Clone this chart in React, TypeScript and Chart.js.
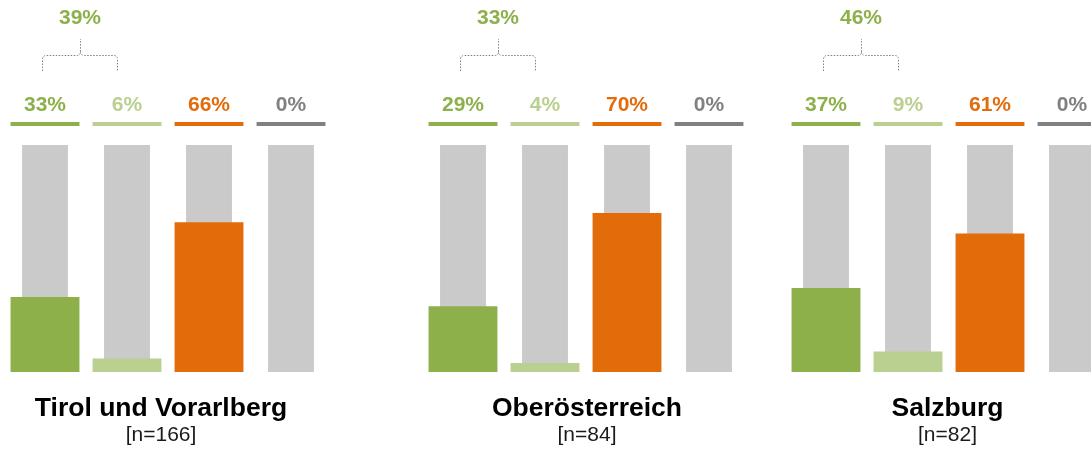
import { useEffect, useRef } from 'react';
import { Chart, registerables } from 'chart.js';

Chart.register(...registerables);

// ---- data ----
const categories = ['Antwort 1', 'Antwort 2', 'Antwort 3', 'Antwort 4'];
const regions = ['Tirol und Vorarlberg', 'Oberösterreich', 'Salzburg'];
const sampleSizes = ['[n=166]', '[n=84]', '[n=82]'];
const tirolValues = [33, 6, 66, 0];
const oberoesterreichValues = [29, 4, 70, 0];
const salzburgValues = [37, 9, 61, 0];
const bracketTotals = [39, 33, 46];
const seriesByRegion = [tirolValues, oberoesterreichValues, salzburgValues];

// ---- styles ----
const barColors = ['#8EB04B', '#BAD090', '#E36C0A', '#808080'];
const trackColor = '#CACACA';
const FONT = 'Arial, "Liberation Sans", Helvetica, sans-serif';
const groupLayouts = [
  { left: 4, labelShift: -7 },
  { left: 422, labelShift: 1 },
  { left: 785, labelShift: -1.5 },
];
const CANVAS_W = 328;
const CANVAS_H = 451;

function GroupChart({ index }: { index: number }) {
  const ref = useRef<HTMLCanvasElement | null>(null);
  useEffect(() => {
    const canvas = ref.current;
    if (!canvas) return;
    const values = seriesByRegion[index];
    const layoutCfg = groupLayouts[index];

    const decor = {
      id: 'decor' + index,
      afterDatasetsDraw(chart: any) {
        const ctx = chart.ctx as CanvasRenderingContext2D;
        const area = chart.chartArea;
        const meta = chart.getDatasetMeta(1);
        const xs: number[] = [];
        ctx.save();
        meta.data.forEach((bar: any, i: number) => {
          const w = bar.width;
          const x = bar.x;
          xs.push(x);
          ctx.fillStyle = barColors[i];
          ctx.fillRect(x - w / 2, area.top - 23, w, 4);
          ctx.font = `bold 21px ${FONT}`;
          ctx.textAlign = 'center';
          ctx.textBaseline = 'middle';
          ctx.fillText(`${values[i]}%`, x, area.top - 40);
        });

        // bracket over the first two bars
        const L = Math.round(xs[0] - 3) + 0.5;
        const R = Math.round(xs[1] - 10) + 0.5;
        const M = Math.round((L + R) / 2) + 0.5;
        const yb = area.top - 74;
        const yh = area.top - 90 + 0.5;
        const yp = area.top - 106;
        const r = 4;
        ctx.strokeStyle = '#7F7F7F';
        ctx.lineWidth = 1;
        ctx.setLineDash([1.5, 1.5]);
        ctx.beginPath();
        ctx.moveTo(L, yb);
        ctx.lineTo(L, yh + r);
        ctx.quadraticCurveTo(L, yh, L + r, yh);
        ctx.lineTo(M - r, yh);
        ctx.quadraticCurveTo(M, yh, M, yh - r);
        ctx.lineTo(M, yp);
        ctx.moveTo(M, yh - r);
        ctx.quadraticCurveTo(M, yh, M + r, yh);
        ctx.lineTo(R - r, yh);
        ctx.quadraticCurveTo(R, yh, R, yh + r);
        ctx.lineTo(R, yb);
        ctx.stroke();
        ctx.setLineDash([]);

        ctx.fillStyle = barColors[0];
        ctx.font = `bold 21px ${FONT}`;
        ctx.textAlign = 'center';
        ctx.textBaseline = 'middle';
        ctx.fillText(`${bracketTotals[index]}%`, (L + R) / 2, area.top - 127);

        // region label
        const cx = (area.left + area.right) / 2 + layoutCfg.labelShift;
        ctx.fillStyle = '#000000';
        ctx.font = `bold 26.5px ${FONT}`;
        ctx.fillText(regions[index], cx, area.bottom + 37);
        ctx.fillStyle = '#1A1A1A';
        ctx.font = `21px ${FONT}`;
        ctx.fillText(sampleSizes[index], cx, area.bottom + 63);
        ctx.restore();
      },
    };

    const chart = new Chart(canvas, {
      type: 'bar',
      data: {
        labels: categories,
        datasets: [
          {
            label: 'Gesamt',
            data: categories.map(() => 100),
            backgroundColor: trackColor,
            barPercentage: 0.56,
            categoryPercentage: 1,
            grouped: false,
            order: 2,
          } as any,
          {
            label: regions[index],
            data: values,
            backgroundColor: barColors,
            barPercentage: 0.84,
            categoryPercentage: 1,
            grouped: false,
            order: 1,
          } as any,
        ],
      },
      options: {
        responsive: false,
        animation: false,
        devicePixelRatio: 1,
        layout: { padding: { top: 145, bottom: 79, left: 0, right: 0 } },
        scales: {
          x: { display: false, offset: true },
          y: { display: false, min: 0, max: 100 },
        },
        plugins: {
          legend: { display: false },
          tooltip: { enabled: false },
          title: { display: false },
        },
        events: [],
      },
      plugins: [decor],
    });
    return () => chart.destroy();
  }, [index]);

  return (
    <canvas
      ref={ref}
      width={CANVAS_W}
      height={CANVAS_H}
      style={{
        position: 'absolute',
        left: groupLayouts[index].left,
        top: 0,
        width: CANVAS_W,
        height: CANVAS_H,
      }}
    />
  );
}

export default function App() {
  return (
    <div
      style={{
        position: 'fixed',
        left: 0,
        top: 0,
        width: 1091,
        height: 451,
        overflow: 'hidden',
        background: '#FFFFFF',
      }}
    >
      {regions.map((_, i) => (
        <GroupChart key={i} index={i} />
      ))}
    </div>
  );
}
